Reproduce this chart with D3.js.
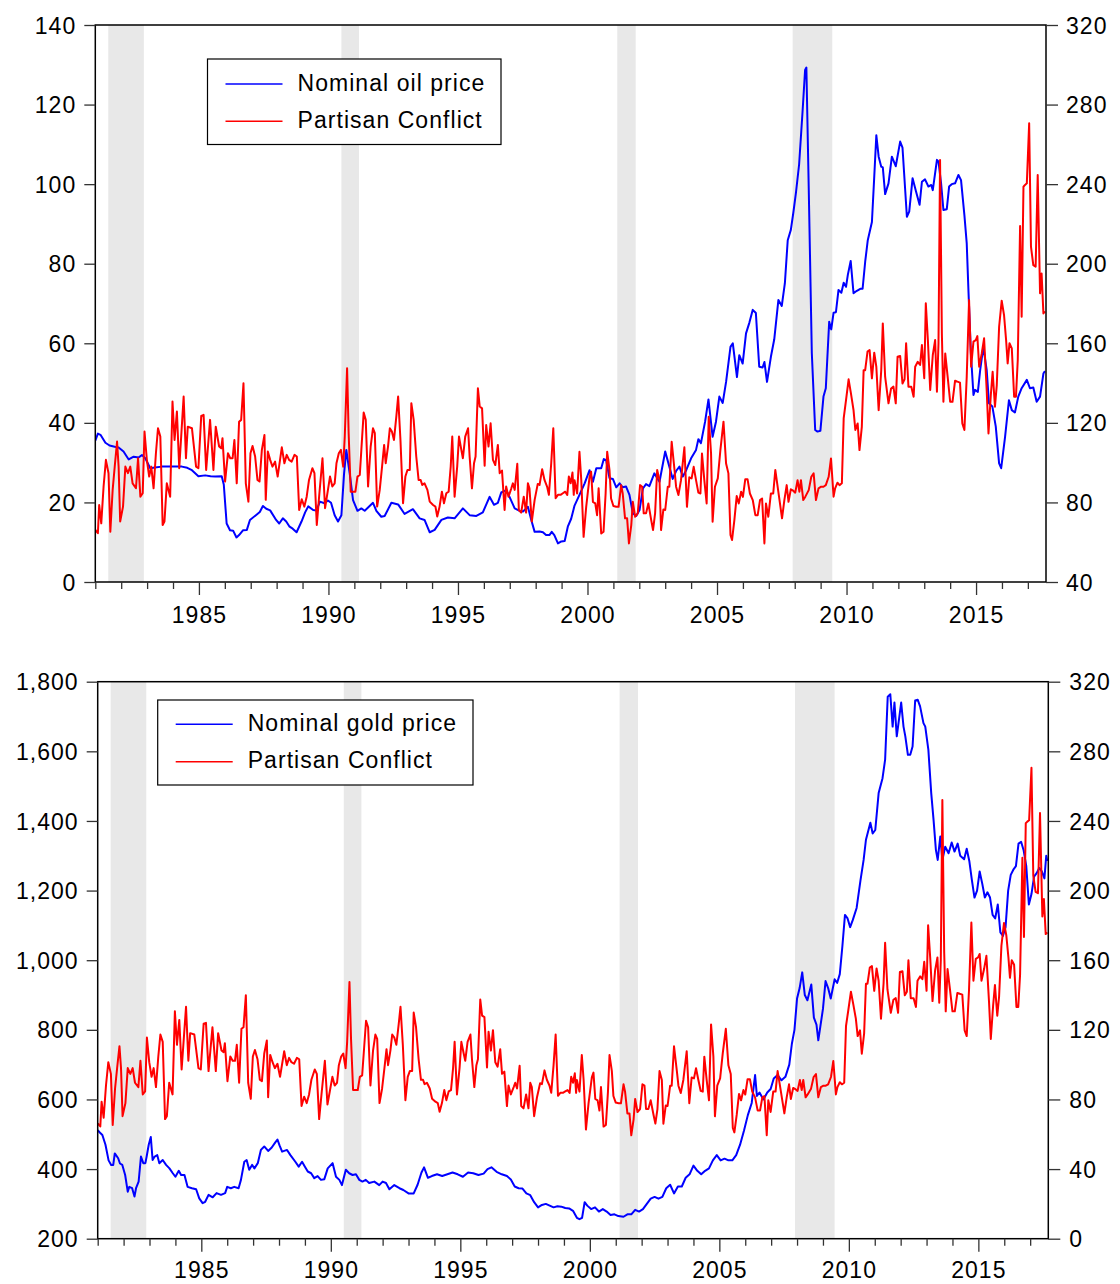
<!DOCTYPE html>
<html><head><meta charset="utf-8">
<script src="https://cdn.jsdelivr.net/npm/d3@7"></script>
<style>
body{margin:0;background:#fff}
svg text{font-family:"Liberation Sans",Arial,Helvetica,sans-serif;fill:#000}
</style></head>
<body><svg id="c" width="1120" height="1284"></svg>
<script>
// ---------------- DATA ----------------
const recessionStart = [1981.5, 1990.5, 2001.15, 2007.92];
const recessionEnd   = [1982.875, 1991.18, 2001.86, 2009.45];

const yearTicks = d3.range(1981, 2018);
const oilTicks = [0,20,40,60,80,100,120,140];
const conflictTicksTop = [40,80,120,160,200,240,280,320];
const goldTicks = [200,400,600,800,1000,1200,1400,1600,1800];
const conflictTicksBottom = [0,40,80,120,160,200,240,280,320];

const legendTop = ["Nominal oil price", "Partisan Conflict"];
const legendBottom = ["Nominal gold price", "Partisan Conflict"];

// [decimal year, US$/barrel]
const oilPrice = [
[1981.00,35.5],[1981.10,37.3],[1981.20,37.0],[1981.39,35.0],[1981.55,34.3],[1981.75,34.0],[1981.90,33.8],[1982.09,32.8],[1982.22,31.5],[1982.29,30.8],[1982.48,31.5],[1982.67,31.3],[1982.80,31.9],[1982.93,31.1],[1983.12,28.6],[1983.30,28.8],[1983.57,29.0],[1983.90,29.0],[1984.34,29.0],[1984.55,28.7],[1984.73,28.1],[1984.98,26.6],[1985.24,26.8],[1985.45,26.6],[1985.63,26.5],[1985.88,26.6],[1985.96,24.5],[1986.07,14.7],[1986.20,13.0],[1986.32,12.9],[1986.45,11.2],[1986.55,11.8],[1986.70,13.0],[1986.85,13.1],[1986.97,15.6],[1987.20,16.8],[1987.35,17.6],[1987.47,19.1],[1987.60,18.4],[1987.75,18.0],[1987.98,15.6],[1988.10,14.7],[1988.24,16.0],[1988.37,15.2],[1988.50,13.9],[1988.62,13.4],[1988.77,12.5],[1988.96,15.2],[1989.10,17.5],[1989.22,19.0],[1989.41,18.1],[1989.54,18.0],[1989.67,20.2],[1989.85,19.8],[1989.98,20.5],[1990.10,19.9],[1990.24,16.8],[1990.37,15.2],[1990.50,16.8],[1990.60,27.0],[1990.69,33.2],[1990.82,27.3],[1990.95,20.6],[1991.12,17.9],[1991.27,18.5],[1991.40,17.9],[1991.53,18.7],[1991.72,19.9],[1991.85,17.9],[1992.04,16.4],[1992.17,16.6],[1992.43,19.9],[1992.69,19.5],[1992.94,17.1],[1993.26,18.3],[1993.52,16.0],[1993.71,15.6],[1993.91,12.5],[1994.10,13.1],[1994.36,15.6],[1994.61,16.2],[1994.87,16.0],[1995.19,18.5],[1995.45,16.8],[1995.71,16.6],[1995.96,17.5],[1996.22,21.4],[1996.39,19.4],[1996.54,19.9],[1996.67,22.5],[1996.86,23.1],[1996.99,21.4],[1997.19,18.5],[1997.38,17.9],[1997.51,17.7],[1997.70,18.9],[1997.83,15.6],[1997.96,12.6],[1998.15,12.7],[1998.28,12.5],[1998.40,11.8],[1998.53,11.8],[1998.62,12.6],[1998.72,11.8],[1998.86,9.7],[1998.99,10.2],[1999.12,10.3],[1999.24,13.9],[1999.37,15.9],[1999.50,19.2],[1999.69,21.9],[1999.89,24.8],[2000.08,28.1],[2000.21,25.2],[2000.34,28.6],[2000.53,28.6],[2000.63,30.9],[2000.72,30.6],[2000.85,26.1],[2000.98,25.9],[2001.11,23.8],[2001.24,24.8],[2001.36,23.8],[2001.49,24.0],[2001.62,21.9],[2001.75,17.3],[2001.88,16.6],[2002.01,18.1],[2002.14,23.5],[2002.26,24.6],[2002.39,24.1],[2002.58,27.3],[2002.78,25.2],[2003.00,32.8],[2003.16,29.0],[2003.29,25.9],[2003.42,27.9],[2003.55,29.0],[2003.68,26.5],[2003.81,28.1],[2004.00,31.1],[2004.19,33.2],[2004.28,35.9],[2004.38,34.9],[2004.54,40.3],[2004.67,45.9],[2004.83,36.5],[2004.96,40.3],[2005.09,46.6],[2005.22,45.0],[2005.35,50.3],[2005.52,59.1],[2005.61,60.0],[2005.77,51.5],[2005.86,57.0],[2005.99,54.9],[2006.12,62.5],[2006.25,65.2],[2006.38,68.4],[2006.50,67.6],[2006.63,54.1],[2006.76,53.9],[2006.83,55.3],[2006.93,50.3],[2007.08,56.6],[2007.21,61.0],[2007.37,70.9],[2007.50,69.4],[2007.62,75.1],[2007.73,85.9],[2007.85,88.5],[2007.95,93.0],[2008.05,98.0],[2008.17,105.0],[2008.30,118.0],[2008.40,128.7],[2008.45,129.3],[2008.54,99.3],[2008.66,57.5],[2008.79,38.2],[2008.88,37.8],[2008.99,38.0],[2009.11,46.6],[2009.20,48.7],[2009.33,65.4],[2009.41,63.5],[2009.50,67.7],[2009.59,67.8],[2009.69,73.4],[2009.80,72.7],[2009.89,75.2],[2009.98,74.2],[2010.05,77.2],[2010.16,80.7],[2010.27,72.6],[2010.40,73.2],[2010.53,73.7],[2010.62,73.7],[2010.72,80.5],[2010.82,85.9],[2010.98,90.5],[2011.07,101.9],[2011.15,112.3],[2011.24,106.9],[2011.34,104.4],[2011.40,104.2],[2011.49,97.5],[2011.62,100.2],[2011.75,106.9],[2011.90,104.5],[2012.07,110.7],[2012.16,109.2],[2012.33,91.8],[2012.42,93.1],[2012.55,101.5],[2012.68,98.2],[2012.82,94.8],[2012.91,100.6],[2013.03,101.2],[2013.16,99.4],[2013.27,99.8],[2013.33,98.5],[2013.49,106.1],[2013.55,105.7],[2013.65,100.2],[2013.74,93.5],[2013.87,93.7],[2013.96,99.4],[2014.06,100.0],[2014.19,100.2],[2014.32,102.3],[2014.42,101.0],[2014.55,92.2],[2014.64,85.1],[2014.71,72.6],[2014.80,57.5],[2014.90,47.0],[2014.96,48.3],[2015.07,47.8],[2015.16,53.3],[2015.28,59.1],[2015.41,53.3],[2015.50,44.9],[2015.63,44.1],[2015.76,39.1],[2015.89,29.8],[2015.97,28.6],[2016.12,36.5],[2016.27,45.7],[2016.38,43.2],[2016.50,42.6],[2016.63,46.6],[2016.76,48.7],[2016.96,50.8],[2017.08,48.7],[2017.21,48.9],[2017.34,45.3],[2017.47,46.6],[2017.60,52.4],[2017.66,53.0]
];

// [decimal year, US$/ounce]
const goldPrice = [
[1981.00,512],[1981.08,505],[1981.18,498],[1981.30,470],[1981.42,425],[1981.52,412],[1981.60,412],[1981.66,445],[1981.79,431],[1981.86,416],[1981.95,412],[1982.06,383],[1982.16,335],[1982.22,349],[1982.33,345],[1982.42,321],[1982.48,345],[1982.58,364],[1982.67,436],[1982.76,417],[1982.84,417],[1982.89,436],[1982.97,470],[1983.05,492],[1983.12,426],[1983.20,436],[1983.30,440],[1983.38,417],[1983.51,426],[1983.64,412],[1983.77,402],[1983.90,388],[1984.00,378],[1984.13,395],[1984.22,383],[1984.35,383],[1984.47,349],[1984.64,345],[1984.80,342],[1984.92,316],[1985.05,302],[1985.15,306],[1985.28,326],[1985.44,319],[1985.59,331],[1985.76,326],[1985.92,331],[1986.00,349],[1986.14,345],[1986.27,349],[1986.44,345],[1986.53,369],[1986.66,421],[1986.75,426],[1986.85,398],[1986.96,412],[1987.05,402],[1987.18,417],[1987.30,455],[1987.43,465],[1987.58,452],[1987.72,462],[1987.85,476],[1987.94,485],[1988.02,468],[1988.12,450],[1988.31,455],[1988.44,440],[1988.63,421],[1988.76,407],[1988.89,421],[1989.00,407],[1989.11,393],[1989.24,388],[1989.36,374],[1989.49,380],[1989.62,369],[1989.75,371],[1989.88,402],[1990.07,417],[1990.20,378],[1990.33,369],[1990.43,354],[1990.58,398],[1990.71,388],[1990.84,383],[1990.97,385],[1991.10,369],[1991.22,364],[1991.35,369],[1991.48,360],[1991.68,364],[1991.87,354],[1992.00,364],[1992.13,360],[1992.26,342],[1992.45,354],[1992.65,345],[1992.80,340],[1993.00,330],[1993.20,330],[1993.35,355],[1993.50,390],[1993.60,405],[1993.75,375],[1993.90,380],[1994.10,385],[1994.30,380],[1994.50,385],[1994.70,390],[1994.90,385],[1995.10,378],[1995.30,390],[1995.50,388],[1995.70,383],[1995.90,387],[1996.05,400],[1996.20,405],[1996.40,392],[1996.60,385],[1996.80,380],[1996.95,370],[1997.10,350],[1997.25,345],[1997.40,344],[1997.55,330],[1997.70,325],[1997.85,305],[1998.00,290],[1998.15,297],[1998.30,300],[1998.45,295],[1998.60,290],[1998.75,293],[1998.90,292],[1999.05,288],[1999.20,287],[1999.35,280],[1999.50,260],[1999.60,256],[1999.70,260],[1999.80,305],[1999.90,295],[2000.05,285],[2000.20,290],[2000.35,278],[2000.50,285],[2000.65,278],[2000.80,268],[2000.95,270],[2001.10,265],[2001.30,263],[2001.45,270],[2001.60,270],[2001.75,283],[2001.90,278],[2002.05,285],[2002.20,300],[2002.35,315],[2002.50,320],[2002.65,315],[2002.80,320],[2002.95,345],[2003.10,355],[2003.25,330],[2003.40,350],[2003.55,350],[2003.70,375],[2003.85,385],[2004.00,410],[2004.15,395],[2004.30,385],[2004.45,395],[2004.60,402],[2004.75,425],[2004.90,440],[2005.05,425],[2005.20,430],[2005.35,425],[2005.50,425],[2005.65,440],[2005.80,470],[2005.95,510],[2006.10,555],[2006.25,590],[2006.38,670],[2006.45,610],[2006.55,620],[2006.70,600],[2006.85,620],[2006.98,630],[2007.10,660],[2007.25,670],[2007.40,655],[2007.55,665],[2007.70,700],[2007.80,760],[2007.90,800],[2008.00,890],[2008.10,920],[2008.20,965],[2008.30,900],[2008.40,885],[2008.55,930],[2008.65,835],[2008.75,815],[2008.82,770],[2008.90,810],[2009.00,860],[2009.10,940],[2009.20,920],[2009.30,890],[2009.45,945],[2009.55,935],[2009.65,960],[2009.75,1040],[2009.85,1130],[2009.95,1120],[2010.05,1095],[2010.15,1115],[2010.30,1150],[2010.45,1230],[2010.57,1288],[2010.66,1346],[2010.83,1395],[2010.92,1364],[2011.02,1374],[2011.15,1480],[2011.30,1523],[2011.40,1576],[2011.50,1757],[2011.60,1764],[2011.69,1671],[2011.76,1740],[2011.85,1643],[2012.02,1740],[2012.11,1671],[2012.18,1643],[2012.28,1590],[2012.37,1590],[2012.46,1614],[2012.56,1746],[2012.66,1748],[2012.75,1729],[2012.88,1681],[2012.95,1671],[2013.07,1604],[2013.18,1480],[2013.27,1403],[2013.36,1317],[2013.43,1288],[2013.53,1355],[2013.61,1288],[2013.72,1326],[2013.85,1307],[2013.97,1338],[2014.08,1312],[2014.20,1335],[2014.30,1300],[2014.45,1290],[2014.55,1320],[2014.65,1285],[2014.75,1230],[2014.85,1180],[2014.95,1200],[2015.05,1255],[2015.15,1220],[2015.25,1180],[2015.35,1195],[2015.45,1180],[2015.55,1130],[2015.65,1120],[2015.75,1160],[2015.85,1080],[2015.95,1070],[2016.05,1095],[2016.15,1200],[2016.25,1245],[2016.35,1260],[2016.45,1270],[2016.55,1335],[2016.65,1340],[2016.75,1315],[2016.85,1270],[2016.95,1160],[2017.05,1190],[2017.15,1240],[2017.25,1250],[2017.35,1265],[2017.45,1255],[2017.55,1235],[2017.62,1300],[2017.66,1285]
];

// [decimal year, index]
const partisanConflict = [
[1981.00,66.2],[1981.10,64.5],[1981.15,78.7],[1981.23,69.5],[1981.32,88.0],[1981.41,101.4],[1981.51,94.7],[1981.58,65.3],[1981.67,86.3],[1981.75,98.0],[1981.84,110.6],[1981.90,98.0],[1981.96,70.4],[1982.07,77.9],[1982.16,98.0],[1982.26,94.7],[1982.35,98.0],[1982.44,89.6],[1982.57,87.1],[1982.65,102.2],[1982.74,82.9],[1982.83,84.6],[1982.90,115.6],[1982.99,101.4],[1983.08,93.0],[1983.16,98.0],[1983.25,87.1],[1983.34,104.7],[1983.42,117.3],[1983.51,113.1],[1983.60,68.7],[1983.67,70.4],[1983.76,89.6],[1983.89,82.9],[1983.98,130.7],[1984.06,111.4],[1984.15,125.7],[1984.24,97.2],[1984.41,133.2],[1984.50,102.2],[1984.57,118.1],[1984.73,117.3],[1984.89,98.0],[1984.98,97.2],[1985.09,123.5],[1985.18,124.0],[1985.28,96.3],[1985.43,121.5],[1985.56,96.3],[1985.65,118.1],[1985.78,108.1],[1985.86,107.2],[1985.91,112.3],[1986.01,90.5],[1986.12,104.7],[1986.21,102.2],[1986.30,102.2],[1986.37,111.4],[1986.46,89.6],[1986.55,120.6],[1986.63,121.5],[1986.72,139.9],[1986.81,89.6],[1986.91,80.4],[1986.99,104.7],[1987.07,108.4],[1987.17,103.1],[1987.26,91.3],[1987.34,90.5],[1987.43,106.4],[1987.53,113.9],[1987.58,81.3],[1987.66,105.6],[1987.75,101.4],[1987.84,98.0],[1987.94,100.5],[1988.04,93.0],[1988.20,107.7],[1988.30,99.7],[1988.39,103.9],[1988.48,101.4],[1988.58,100.5],[1988.69,103.9],[1988.78,103.1],[1988.87,76.2],[1988.97,81.6],[1989.07,77.9],[1989.16,82.9],[1989.25,91.3],[1989.38,97.2],[1989.46,94.7],[1989.55,68.7],[1989.64,82.9],[1989.77,102.2],[1989.87,77.1],[1989.97,85.4],[1990.06,93.0],[1990.15,88.0],
[1990.24,89.6],[1990.31,99.7],[1990.40,104.7],[1990.48,106.4],[1990.57,98.0],[1990.63,113.1],[1990.72,147.5],[1990.78,114.8],[1990.86,85.4],[1990.95,85.4],[1991.04,85.4],[1991.12,93.0],[1991.21,93.8],[1991.27,106.4],[1991.36,125.2],[1991.44,121.5],[1991.53,88.0],[1991.63,108.1],[1991.72,117.3],[1991.79,114.8],[1991.88,77.9],[1991.98,86.3],[1992.07,98.0],[1992.15,108.9],[1992.21,99.7],[1992.30,108.1],[1992.37,117.3],[1992.45,115.6],[1992.53,111.4],[1992.62,123.1],[1992.69,133.2],[1992.78,111.4],[1992.88,79.6],[1992.97,93.0],[1993.05,96.3],[1993.14,96.3],[1993.20,129.9],[1993.29,121.5],[1993.39,103.1],[1993.48,91.3],[1993.56,91.3],[1993.62,88.8],[1993.71,89.6],[1993.82,86.3],[1993.91,80.4],[1994.04,78.7],[1994.13,77.9],[1994.20,72.9],[1994.29,77.9],[1994.38,85.4],[1994.46,79.6],[1994.55,84.6],[1994.64,85.4],[1994.72,98.0],[1994.78,113.1],[1994.87,82.9],[1994.97,98.0],[1995.04,113.1],[1995.13,106.4],[1995.19,102.2],[1995.28,113.1],[1995.39,117.3],[1995.45,103.1],[1995.54,87.1],[1995.62,99.7],[1995.68,103.1],[1995.77,137.4],[1995.84,128.2],[1995.93,127.3],[1996.03,98.4],[1996.09,118.9],[1996.18,108.1],[1996.26,119.8],[1996.35,101.4],[1996.44,98.8],[1996.54,108.9],[1996.61,94.7],[1996.70,96.0],[1996.80,76.2],[1996.86,88.0],[1996.95,82.9],[1997.06,87.1],[1997.12,89.6],[1997.19,86.3],[1997.29,99.4],[1997.35,76.2],[1997.44,74.9],[1997.54,82.9],[1997.63,74.9],[1997.70,89.6],[1997.76,87.1],[1997.85,70.4],[1997.96,81.3],[1998.08,89.3],[1998.15,88.8],[1998.25,96.7],[1998.34,91.3],[1998.44,88.0],[1998.51,83.8],[1998.60,99.7],[1998.68,117.3],[1998.77,82.1],[1998.86,83.8],[1998.96,83.8],[1999.05,84.6],[1999.14,85.4],[1999.22,83.8],[1999.28,93.0],[1999.35,89.6],[1999.42,95.0],[1999.47,83.8],
[1999.50,91.2],[1999.60,84.5],[1999.69,105.5],[1999.76,91.2],[1999.85,62.7],[1999.95,77.8],[2000.08,92.9],[2000.14,95.4],[2000.21,80.3],[2000.30,79.5],[2000.37,73.6],[2000.43,87.1],[2000.53,64.4],[2000.62,65.3],[2000.70,84.5],[2000.76,105.5],[2000.85,96.3],[2000.91,82.0],[2001.00,78.2],[2001.11,77.8],[2001.20,77.8],[2001.30,88.7],[2001.36,84.5],[2001.45,72.0],[2001.53,72.0],[2001.60,59.4],[2001.69,68.6],[2001.75,80.3],[2001.84,72.8],[2001.94,74.5],[2002.03,88.7],[2002.11,87.9],[2002.17,74.5],[2002.26,74.5],[2002.35,79.5],[2002.46,71.1],[2002.53,66.1],[2002.61,74.5],[2002.69,96.3],[2002.78,91.2],[2002.84,66.1],[2002.93,76.5],[2003.00,76.2],[2003.10,87.9],[2003.16,87.9],[2003.25,110.5],[2003.36,96.3],[2003.42,87.9],[2003.51,83.7],[2003.61,91.2],[2003.74,107.7],[2003.84,77.8],[2003.93,92.6],[2004.02,92.1],[2004.10,97.9],[2004.19,91.2],[2004.28,84.9],[2004.36,84.5],[2004.42,104.6],[2004.51,91.2],[2004.60,79.5],[2004.68,123.1],[2004.77,104.6],[2004.83,70.3],[2004.92,87.9],[2005.03,92.1],[2005.13,106.3],[2005.25,120.6],[2005.35,99.6],[2005.44,94.6],[2005.52,63.6],[2005.58,61.1],[2005.67,71.1],[2005.76,83.2],[2005.84,79.5],[2005.93,85.4],[2006.00,82.8],[2006.09,91.6],[2006.18,91.6],[2006.27,84.5],[2006.38,81.2],[2006.48,73.6],[2006.57,73.6],[2006.66,81.2],[2006.74,82.0],[2006.83,59.4],[2006.89,79.5],[2006.98,72.8],[2007.08,84.5],[2007.17,84.5],[2007.25,96.3],[2007.34,87.9],[2007.43,79.5],[2007.51,72.0],[2007.60,81.2],[2007.69,88.7],[2007.76,80.3],[2007.85,86.6],[2007.94,85.9],[2008.02,84.9],[2008.11,91.2],[2008.18,85.4],[2008.24,91.2],[2008.33,81.2],[2008.41,82.9],
[2008.54,86.2],[2008.64,92.9],[2008.73,94.6],[2008.82,81.2],[2008.92,87.1],[2009.02,87.9],[2009.11,87.9],[2009.20,88.7],[2009.31,92.9],[2009.40,102.1],[2009.50,82.9],[2009.56,87.1],[2009.65,89.9],[2009.73,88.7],[2009.82,89.6],[2009.89,122.2],[2009.98,131.4],[2010.08,141.9],[2010.17,134.8],[2010.27,126.4],[2010.34,116.4],[2010.43,119.7],[2010.50,106.3],[2010.59,118.0],[2010.66,146.5],[2010.72,146.5],[2010.81,155.8],[2010.89,156.6],[2010.98,142.4],[2011.07,155.3],[2011.15,148.2],[2011.24,126.4],[2011.34,146.5],[2011.40,170.0],[2011.49,143.2],[2011.62,129.8],[2011.72,137.3],[2011.81,138.2],[2011.90,129.8],[2011.97,153.2],[2012.07,153.6],[2012.16,139.8],[2012.24,141.9],[2012.30,160.0],[2012.39,138.2],[2012.50,138.2],[2012.59,133.1],[2012.65,148.2],[2012.75,150.7],[2012.84,149.1],[2012.91,159.1],[2013.00,142.4],[2013.06,180.1],[2013.14,161.6],[2013.23,136.5],[2013.33,154.1],[2013.42,161.6],[2013.49,135.6],[2013.55,160.0],[2013.61,252.1],[2013.68,165.0],[2013.74,130.6],[2013.81,154.9],[2013.91,142.4],[2014.00,130.6],[2014.09,130.6],[2014.19,141.2],[2014.28,140.7],[2014.38,140.2],[2014.47,119.7],[2014.55,116.4],[2014.64,143.2],[2014.73,181.7],[2014.81,148.2],[2014.90,160.8],[2014.99,161.6],[2015.05,163.6],[2015.12,148.2],[2015.22,154.9],[2015.31,162.5],[2015.41,136.5],[2015.48,114.7],[2015.57,134.0],[2015.64,145.7],[2015.73,128.1],[2015.80,139.0],[2015.89,168.3],[2015.99,181.4],[2016.08,174.2],[2016.16,161.6],[2016.22,149.9],[2016.29,160.0],[2016.38,157.4],[2016.47,133.1],[2016.54,133.1],[2016.61,151.6],[2016.70,218.9],[2016.76,173.4],[2016.83,238.7],[2016.89,239.6],[2016.96,240.4],[2017.05,270.6],[2017.12,208.6],[2017.21,199.3],[2017.30,198.5],[2017.38,244.6],[2017.47,185.1],[2017.53,195.1],[2017.60,175.0],[2017.66,176.0]
];

// ---------------- DRAWING ----------------
const svg = d3.select('#c');
const xDomain = [1981, 2017.7];
const FS = 23, LS = '1.05px';
let clipId = 0;

function drawPanel(o) {
  const g = svg.append('g');
  const x = d3.scaleLinear().domain(xDomain).range([o.left, o.right]);
  const yL = d3.scaleLinear().domain(o.leftDomain).range([o.bottom, o.top]);
  const yR = d3.scaleLinear().domain(o.rightDomain).range([o.bottom, o.top]);

  // recession shading
  g.append('g').selectAll('rect')
    .data(recessionStart.map((s, i) => [s, recessionEnd[i]]))
    .enter().append('rect')
    .attr('x', d => x(d[0])).attr('width', d => x(d[1]) - x(d[0]))
    .attr('y', o.top).attr('height', o.bottom - o.top)
    .attr('fill', '#e8e8e8');

  const cid = 'clip' + (clipId++);
  g.append('clipPath').attr('id', cid).append('rect')
    .attr('x', o.left).attr('y', o.top).attr('width', o.right - o.left).attr('height', o.bottom - o.top);

  const lineL = d3.line().x(d => x(d[0])).y(d => yL(d[1]));
  const lineR = d3.line().x(d => x(d[0])).y(d => yR(d[1]));
  g.append('path').datum(o.series).attr('clip-path', `url(#${cid})`)
    .attr('d', lineL).attr('fill', 'none').attr('stroke', '#0000ff').attr('stroke-width', 2).attr('stroke-linejoin', 'round');
  g.append('path').datum(partisanConflict).attr('clip-path', `url(#${cid})`)
    .attr('d', lineR).attr('fill', 'none').attr('stroke', '#ff0000').attr('stroke-width', 2).attr('stroke-linejoin', 'round');

  // frame
  g.append('rect').attr('x', o.left).attr('y', o.top).attr('width', o.right - o.left).attr('height', o.bottom - o.top)
    .attr('fill', 'none').attr('stroke', '#000').attr('stroke-width', 1.5);

  // left axis
  const axL = g.append('g').attr('transform', `translate(${o.left},0)`)
    .call(d3.axisLeft(yL).tickValues(o.leftTicks).tickSize(11).tickPadding(8).tickFormat(o.leftFormat));
  // right axis
  const axR = g.append('g').attr('transform', `translate(${o.right},0)`)
    .call(d3.axisRight(yR).tickValues(o.rightTicks).tickSize(12).tickPadding(o.rightPad).tickFormat(d3.format('d')));
  // bottom axis
  const axB = g.append('g').attr('transform', `translate(0,${o.bottom})`)
    .call(d3.axisBottom(x).tickValues(yearTicks).tickSize(7).tickFormat(d => d % 5 === 0 ? String(d) : ''));
  axB.selectAll('.tick line').filter(d => d % 5 === 0).attr('y2', 13);
  axB.selectAll('.tick text').attr('y', o.xLabelOffset).attr('dy', null);

  [axL, axR, axB].forEach(a => {
    a.select('.domain').remove();
    a.selectAll('.tick line').attr('stroke', '#333').attr('stroke-width', 1.3);
    a.selectAll('.tick text').attr('font-size', FS).attr('letter-spacing', LS)
      .attr('font-family', '"Liberation Sans", Arial, sans-serif').attr('fill', '#000');
  });
  axL.selectAll('.tick text').attr('dy', '0.35em');
  axR.selectAll('.tick text').attr('dy', '0.35em');

  // legend
  const lg = g.append('g');
  lg.append('rect').attr('x', o.legend.x).attr('y', o.legend.y).attr('width', o.legend.w).attr('height', o.legend.h)
    .attr('fill', '#fff').attr('stroke', '#000').attr('stroke-width', 1.2);
  const colors = ['#0000ff', '#ff0000'];
  o.legendLabels.forEach((lab, i) => {
    const ly = o.legend.y + o.legend.row0 + i * o.legend.rowGap;
    lg.append('line').attr('x1', o.legend.x + 18).attr('x2', o.legend.x + 75).attr('y1', ly).attr('y2', ly)
      .attr('stroke', colors[i]).attr('stroke-width', 1.5);
    lg.append('text').attr('x', o.legend.x + 90).attr('y', ly + 6.5).text(lab)
      .attr('font-size', FS).attr('letter-spacing', LS);
  });
}

drawPanel({
  left: 95.3, right: 1046, top: 25, bottom: 582,
  leftDomain: [0, 140], rightDomain: [40, 320],
  leftTicks: oilTicks, rightTicks: conflictTicksTop,
  leftFormat: d3.format('d'), rightPad: 8,
  series: oilPrice, xLabelOffset: 41,
  legendLabels: legendTop,
  legend: {x: 207.5, y: 59, w: 293.5, h: 85.5, row0: 25, rowGap: 37.3}
});

drawPanel({
  left: 97.7, right: 1048.3, top: 681.7, bottom: 1238.7,
  leftDomain: [200, 1800], rightDomain: [0, 320],
  leftTicks: goldTicks, rightTicks: conflictTicksBottom,
  leftFormat: d3.format(','), rightPad: 9,
  series: goldPrice, xLabelOffset: 39.5,
  legendLabels: legendBottom,
  legend: {x: 157.7, y: 700, w: 315.3, h: 85, row0: 24.3, rowGap: 37.4}
});
</script>
</body></html>
